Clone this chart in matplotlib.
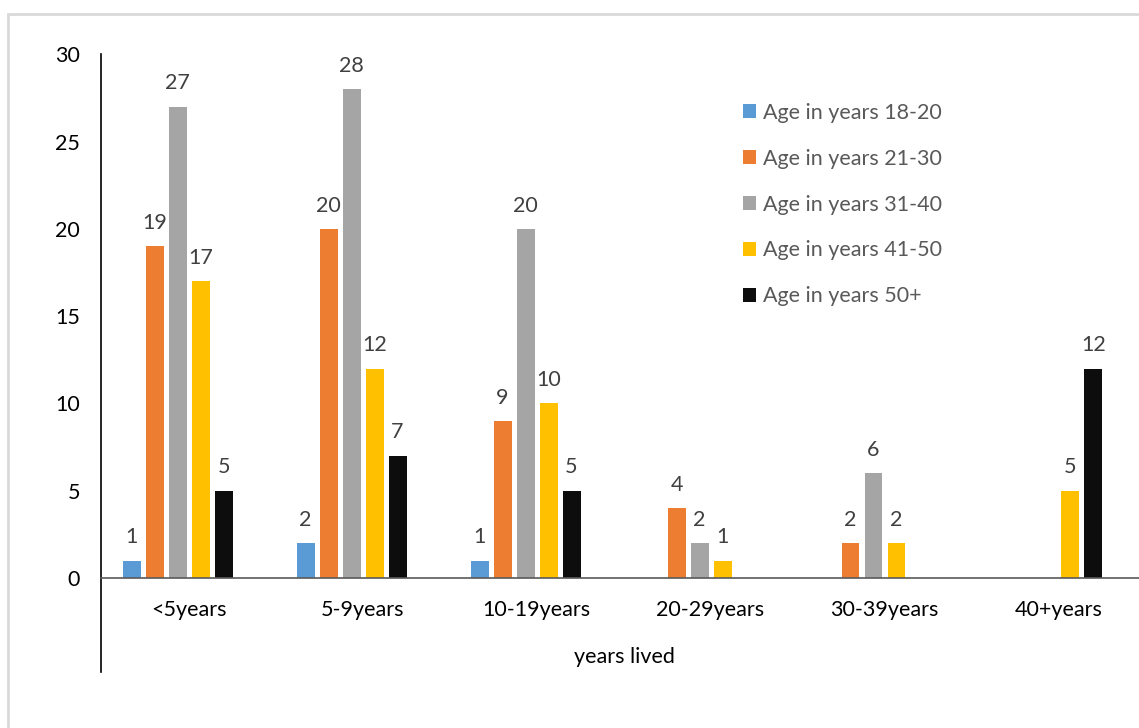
import numpy as np
import matplotlib
matplotlib.use('Agg')
import matplotlib.pyplot as plt
from matplotlib.patches import Rectangle

plt.rcParams['font.family'] = ['Lato', 'DejaVu Sans']

# Respondents by years lived in the area, split by age group
categories = ['<5years', '5-9years', '10-19years', '20-29years', '30-39years', '40+years']
age_groups = ['Age in years 18-20', 'Age in years 21-30', 'Age in years 31-40',
              'Age in years 41-50', 'Age in years 50+']
age_18_20 = [1, 2, 1, 0, 0, 0]
age_21_30 = [19, 20, 9, 4, 2, 0]
age_31_40 = [27, 28, 20, 2, 6, 0]
age_41_50 = [17, 12, 10, 1, 2, 5]
age_50_plus = [5, 7, 5, 0, 0, 12]
series = [age_18_20, age_21_30, age_31_40, age_41_50, age_50_plus]
colors = ['#5B9BD5', '#ED7D31', '#A5A5A5', '#FFC000', '#0D0D0D']

fig = plt.figure(figsize=(11.39, 7.28), dpi=100)
ax = fig.add_axes([101 / 1139, 56 / 728, 1 - 101 / 1139, 617.7 / 728])

# light frame around the chart area
fig.patches.append(Rectangle((8 / 1139, -0.1), 1.2, 1 - 14 / 728 + 0.1,
                             transform=fig.transFigure, fill=False,
                             edgecolor='#d9d9d9', linewidth=2))

x = np.arange(len(categories))
step = 0.1322
width = 0.1034
for k, (vals, col, name) in enumerate(zip(series, colors, age_groups)):
    vals = np.array(vals, dtype=float)
    pos = x + (k - 2) * step
    mask = vals > 0
    ax.bar(pos[mask], vals[mask], width, color=col, label=name)
    for px, v in zip(pos[mask], vals[mask]):
        ax.annotate(f'{int(v)}', (px, v), xytext=(0, 12.5), textcoords='offset points',
                    ha='center', va='baseline', fontsize=15.5, color='#404040')

ax.set_xlim(-0.44, 5.526)
ax.set_ylim(-5.385, 30)
ax.set_yticks([0, 5, 10, 15, 20, 25, 30])
# category labels sit slightly right of the bar group centres
ax.set_xticks(x + 0.063)
ax.set_xticklabels(categories)
ax.tick_params(axis='both', length=0, labelsize=15.5, labelcolor='black')
ax.tick_params(axis='y', pad=15)
ax.tick_params(axis='x', pad=16)

for side in ['top', 'right']:
    ax.spines[side].set_visible(False)
ax.spines['bottom'].set_position(('data', 0))
ax.spines['bottom'].set_color('#595959')
ax.spines['bottom'].set_linewidth(1.2)
ax.spines['left'].set_color('black')
ax.spines['left'].set_linewidth(1.2)

ax.set_xlabel('years lived', fontsize=15.5, color='black')
ax.xaxis.set_label_coords(0.504, 0.0243)
ax.xaxis.label.set_va('center')

ax.legend(loc='upper left', bbox_to_anchor=(743 / 1139, 1 - 103 / 728),
          bbox_transform=fig.transFigure, frameon=False, fontsize=15.5,
          handlelength=0.62, handleheight=0.62, handletextpad=0.3,
          labelspacing=1.2, borderpad=0, borderaxespad=0, labelcolor='#595959')

fig.savefig('out.png', dpi=100)
